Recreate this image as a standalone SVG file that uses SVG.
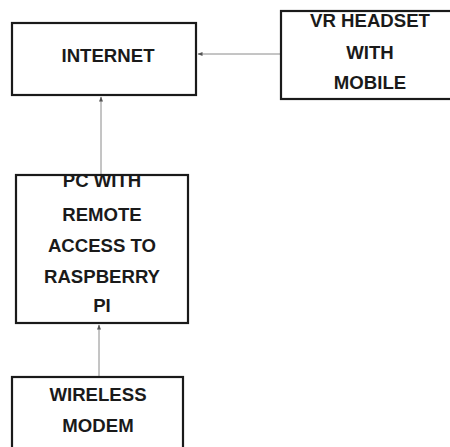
<svg xmlns="http://www.w3.org/2000/svg" width="450" height="447" viewBox="0 0 450 447">
<style>
.box{fill:#fff;stroke:#1a1a1a;stroke-width:2.2}
.lbl{font-family:"Liberation Sans",Arial,sans-serif;font-weight:bold;font-size:18.6px;fill:#1a1a1a;text-anchor:middle}
.con{stroke:#8a8a8a;stroke-width:1;fill:none}
</style>
<defs>
<marker id="ah" viewBox="0 0 10 10" refX="9" refY="5" markerWidth="6" markerHeight="5" orient="auto" markerUnits="userSpaceOnUse">
<path d="M0,1 L10,5 L0,9 z" fill="#555"/>
</marker>
</defs>
<rect width="450" height="447" fill="#fff"/>
<g id="connectors">
<line class="con" x1="281" y1="54" x2="198" y2="54" marker-end="url(#ah)"/>
<line class="con" x1="101" y1="175" x2="101" y2="97" marker-end="url(#ah)"/>
<line class="con" x1="99" y1="377" x2="99" y2="325" marker-end="url(#ah)"/>
</g>
<g id="internet">
<rect class="box" x="12" y="23" width="184" height="72"/>
<text class="lbl" x="108" y="61.5">INTERNET</text>
</g>
<g id="vr-headset">
<rect class="box" x="281" y="11" width="175" height="88"/>
<text class="lbl" x="370" y="27">VR HEADSET</text>
<text class="lbl" x="370" y="58.5">WITH</text>
<text class="lbl" x="370" y="88.5">MOBILE</text>
</g>
<g id="pc">
<rect class="box" x="16" y="175" width="172" height="148"/>
<text class="lbl" x="102" y="186.5">PC WITH</text>
<text class="lbl" x="102" y="220.5">REMOTE</text>
<text class="lbl" x="102" y="251.5">ACCESS TO</text>
<text class="lbl" x="102" y="282.5">RASPBERRY</text>
<text class="lbl" x="102" y="311.5">PI</text>
</g>
<g id="wireless-modem">
<rect class="box" x="12" y="377" width="171" height="80"/>
<text class="lbl" x="98" y="400.5">WIRELESS</text>
<text class="lbl" x="98" y="431.5">MODEM</text>
</g>
</svg>
